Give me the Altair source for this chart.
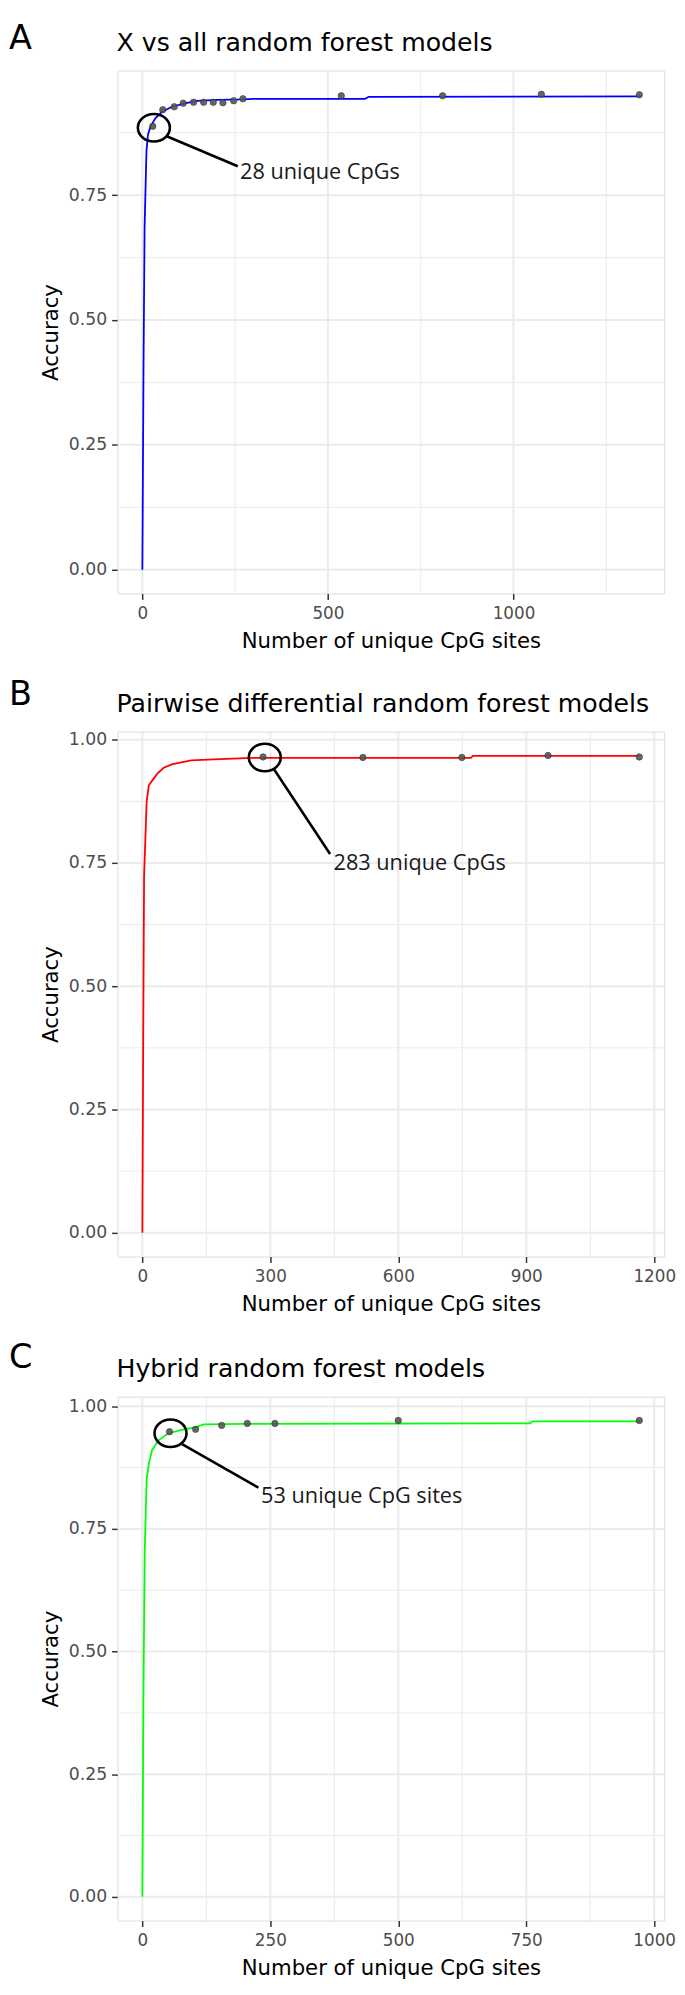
import altair as alt
import pandas as pd

FONT = "DejaVu Sans"
ANN_FONT = "Open Sans"

# ---------------- Panel A: X vs all ----------------
a_pts_x = [28, 55, 86, 110, 138, 165, 191, 217, 246, 271, 536, 809, 1075, 1339]
a_pts_y = [0.888, 0.921, 0.927, 0.934, 0.936, 0.936, 0.936, 0.935, 0.939, 0.943, 0.949, 0.949, 0.952, 0.951]
a_line_x = [0, 3, 6, 11, 15, 22, 35, 53, 80, 115, 146, 200, 272, 300, 600, 610, 1339]
a_line_y = [0.0, 0.40, 0.687, 0.838, 0.871, 0.888, 0.904, 0.917, 0.927, 0.934, 0.939, 0.941, 0.942, 0.943, 0.943, 0.947, 0.948]
a_x_major = [0, 500, 1000]
a_x_minor = [250, 750, 1250]

# ---------------- Panel B: Pairwise ----------------
b_pts_x = [283, 517, 749, 951, 1165]
b_pts_y = [0.965, 0.964, 0.964, 0.968, 0.965]
b_line_x = [0, 2, 4, 10, 15, 23, 35, 50, 69, 85, 115, 167, 258, 770, 775, 1165]
b_line_y = [0.0, 0.40, 0.724, 0.874, 0.907, 0.917, 0.931, 0.943, 0.950, 0.953, 0.958, 0.960, 0.963, 0.963, 0.967, 0.967]
b_x_major = [0, 300, 600, 900, 1200]
b_x_minor = [150, 450, 750, 1050]

# ---------------- Panel C: Hybrid ----------------
c_pts_x = [53, 104, 155, 205, 259, 500, 971]
c_pts_y = [0.948, 0.953, 0.961, 0.965, 0.965, 0.971, 0.971]
c_line_x = [0, 2, 4.5, 8.3, 12.8, 19, 32, 51, 77, 103, 120, 200, 758, 762, 971]
c_line_y = [0.0, 0.40, 0.70, 0.851, 0.884, 0.911, 0.931, 0.945, 0.952, 0.957, 0.963, 0.964, 0.965, 0.969, 0.969]
c_x_major = [0, 250, 500, 750, 1000]
c_x_minor = [125, 375, 625, 875]

y_major = [0.0, 0.25, 0.50, 0.75, 1.00]
y_minor = [0.125, 0.375, 0.625, 0.875]

# annotation texts and anchors (data units)
a_note = "28 unique CpGs"
b_note = "283 unique CpGs"
c_note = "53 unique CpG sites"
a_ring = [31, 0.885]
b_ring = [287, 0.964]
c_ring = [55, 0.945]
a_seg = [65.6, 0.868, 257, 0.808]
b_seg = [307, 0.942, 440, 0.768]
c_seg = [77.5, 0.923, 226.8, 0.834]
a_lab = [263, 0.797]
b_lab = [448, 0.749]
c_lab = [232, 0.817]

ELLIPSE = "M -1 0 A 1 0.86 0 1 0 1 0 A 1 0.86 0 1 0 -1 0 Z"


def panel(letter, title, px, py, lx, ly, color, xmaj, xmin, note, ring, seg, lab, height, letter_top):
    xs = px + lx
    ys = py + ly
    xr = max(xs) - min(xs)
    yr = max(ys) - min(ys)
    xdom = [min(xs) - 0.05 * xr, max(xs) + 0.05 * xr]
    ydom = [min(ys) - 0.05 * yr, max(ys) + 0.05 * yr]
    xs_ = alt.Scale(domain=xdom, nice=False, zero=False)
    ys_ = alt.Scale(domain=ydom, nice=False, zero=False)
    ymaj = [v for v in y_major if ydom[0] <= v <= ydom[1]]
    ymin = [v for v in y_minor if ydom[0] <= v <= ydom[1]]

    ax_x = alt.Axis(
        values=xmaj, format="d", grid=False, domain=False, tickSize=6, tickColor="#333333",
        tickWidth=1.5, labelFont=FONT, labelFontSize=17, labelColor="#4D4D4D", labelPadding=6,
        labelFlush=False, title="Number of unique CpG sites", titleFont=FONT, titleFontSize=21.5,
        titleFontWeight="normal", titleColor="black", titlePadding=10)
    ax_y = alt.Axis(
        values=ymaj, format=".2f", grid=False, domain=False, tickSize=6, tickColor="#333333",
        tickWidth=1.5, labelFont=FONT, labelFontSize=17.5, labelColor="#4D4D4D", labelPadding=5,
        title="Accuracy", titleFont=FONT, titleFontSize=21.5, titleFontWeight="normal",
        titleColor="black", titlePadding=6)

    def X(f):
        return alt.X(f, scale=xs_, axis=ax_x)

    def Y(f):
        return alt.Y(f, scale=ys_, axis=ax_y)

    grid_col = "#EBEBEB"
    gx_major = alt.Chart(pd.DataFrame({"x": xmaj})).mark_rule(color=grid_col, strokeWidth=2).encode(
        x=X("x:Q"))
    gx_minor = alt.Chart(pd.DataFrame({"x": xmin})).mark_rule(color=grid_col, strokeWidth=1, clip=True).encode(
        x=X("x:Q"))
    gy_major = alt.Chart(pd.DataFrame({"y": ymaj})).mark_rule(color=grid_col, strokeWidth=2).encode(
        y=Y("y:Q"))
    gy_minor = alt.Chart(pd.DataFrame({"y": ymin})).mark_rule(color=grid_col, strokeWidth=1).encode(
        y=Y("y:Q"))

    line_df = pd.DataFrame({"x": lx, "y": ly, "o": list(range(len(lx)))})
    line = alt.Chart(line_df).mark_line(color=color, strokeWidth=1.8).encode(
        x=X("x:Q"), y=Y("y:Q"), order="o:Q")

    pts = alt.Chart(pd.DataFrame({"x": px, "y": py})).mark_circle(
        size=42, color="#555555", opacity=0.9, stroke="#333333", strokeWidth=0.7).encode(
        x=X("x:Q"), y=Y("y:Q"))

    ring_m = alt.Chart(pd.DataFrame({"x": [ring[0]], "y": [ring[1]]})).mark_point(
        shape=ELLIPSE, size=1050, filled=False, color="black", strokeWidth=2.6, opacity=1).encode(
        x=X("x:Q"), y=Y("y:Q"))

    seg_m = alt.Chart(pd.DataFrame({"x": [seg[0]], "y": [seg[1]], "x2": [seg[2]], "y2": [seg[3]]})).mark_rule(
        color="black", strokeWidth=2.6).encode(
        x=X("x:Q"), y=Y("y:Q"), x2="x2:Q", y2="y2:Q")

    lab_m = alt.Chart(pd.DataFrame({"x": [lab[0]], "y": [lab[1]], "t": [note]})).mark_text(
        align="left", baseline="middle", font=ANN_FONT, fontSize=22, color="#1a1a1a").encode(
        x=X("x:Q"), y=Y("y:Q"), text="t:N")

    letter_m = alt.Chart(pd.DataFrame({"t": [letter]})).mark_text(
        align="left", baseline="top", font=FONT, fontSize=34, color="black").encode(
        x=alt.value(-110), y=alt.value(letter_top), text="t:N")

    title_m = alt.Chart(pd.DataFrame({"t": [title]})).mark_text(
        align="left", baseline="top", font=FONT, fontSize=25.5, color="black").encode(
        x=alt.value(-1), y=alt.value(-40), text="t:N")

    return alt.layer(gx_minor, gy_minor, gx_major, gy_major, line, pts, ring_m, seg_m, lab_m,
                     letter_m, title_m).properties(width=554, height=height)


pa = panel("A", "X vs all random forest models", a_pts_x, a_pts_y, a_line_x, a_line_y, "#0000FF",
           a_x_major, a_x_minor, a_note, a_ring, a_seg, a_lab, 530, -49)
pb = panel("B", "Pairwise differential random forest models", b_pts_x, b_pts_y, b_line_x, b_line_y,
           "#FF0000", b_x_major, b_x_minor, b_note, b_ring, b_seg, b_lab, 532, -54)
pc = panel("C", "Hybrid random forest models", c_pts_x, c_pts_y, c_line_x, c_line_y, "#00FF00",
           c_x_major, c_x_minor, c_note, c_ring, c_seg, c_lab, 531, -56)

chart = alt.vconcat(pa, pb, pc, spacing=25).properties(
    padding={"left": 0, "top": 0, "right": 0, "bottom": 0}).configure_view(
    stroke="#333333", strokeWidth=2).configure(background="white")

chart.save("out.html", embed_options={"renderer": "svg", "actions": False})
